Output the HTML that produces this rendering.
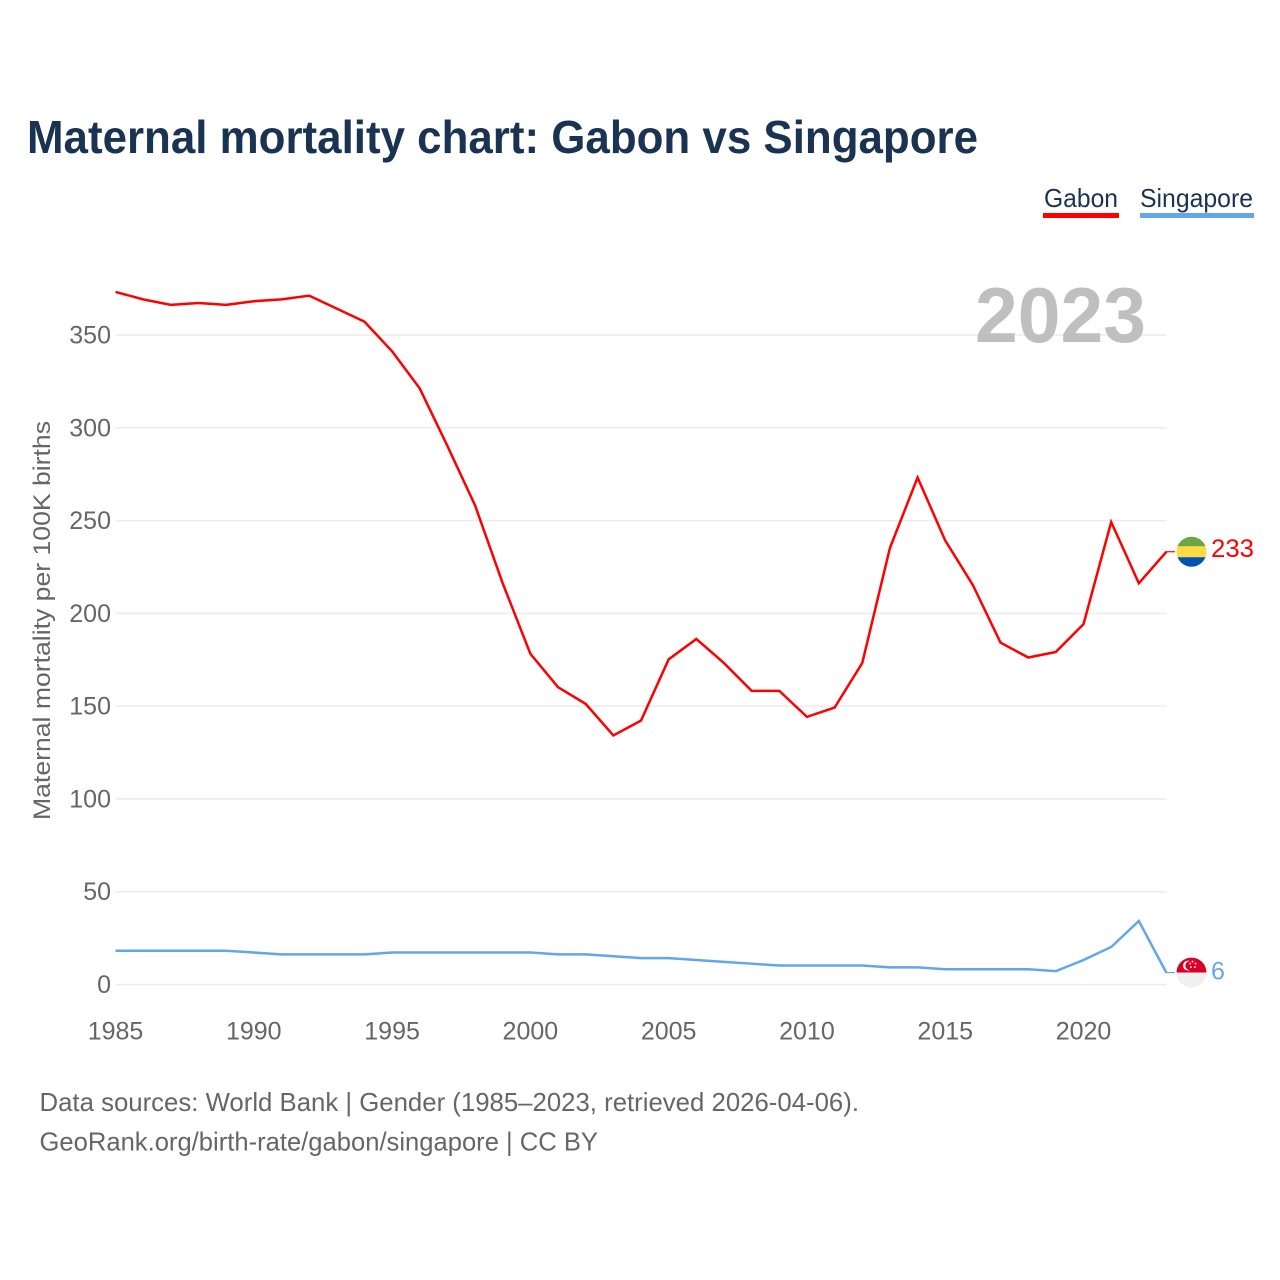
<!DOCTYPE html>
<html lang="en">
<head>
<meta charset="utf-8">
<title>Maternal mortality chart: Gabon vs Singapore</title>
<style>
html,body{margin:0;padding:0;background:#fff;width:1280px;height:1280px;overflow:hidden}
svg{display:block}
text{font-family:"Liberation Sans",sans-serif}
</style>
</head>
<body>
<svg id="chart" width="1280" height="1280" viewBox="0 0 1280 1280" xmlns="http://www.w3.org/2000/svg">
  <defs>
    <clipPath id="flag-clip-gabon"><circle cx="0" cy="0" r="15"></circle></clipPath>
    <clipPath id="flag-clip-singapore"><circle cx="0" cy="0" r="15"></circle></clipPath>
  </defs>
  <text x="27" y="153" font-size="46" font-weight="700" fill="#1a3353" textLength="951" lengthAdjust="spacingAndGlyphs">Maternal mortality chart: Gabon vs Singapore</text>

  <g>
    <g>
      <text x="1044" y="207" font-size="26" fill="#1a3353" textLength="74" lengthAdjust="spacingAndGlyphs">Gabon</text>
      <rect x="1043" y="213" width="76" height="5" fill="#ff0000"></rect>
    </g>
    <g>
      <text x="1140" y="207" font-size="26" fill="#1a3353" textLength="113" lengthAdjust="spacingAndGlyphs">Singapore</text>
      <rect x="1140" y="213" width="114" height="5" fill="#62a6ec"></rect>
    </g>
  </g>

  <g id="grid"></g>
  <g id="y-ticks"></g>
  <g id="x-ticks"></g>

  <text transform="translate(50,820) rotate(-90)" font-size="24" fill="#666666" textLength="399" lengthAdjust="spacingAndGlyphs">Maternal mortality per 100K births</text>

  <text x="975" y="342" font-size="78" font-weight="700" fill="#bfbfbf" textLength="171" lengthAdjust="spacingAndGlyphs">2023</text>

  <g id="series"></g>
  <g id="end-markers"></g>

  <text x="39.5" y="1111" font-size="26" fill="#666666" textLength="819.5" lengthAdjust="spacingAndGlyphs">Data sources: World Bank | Gender (1985–2023, retrieved 2026-04-06).</text>
  <text x="39.5" y="1150.5" font-size="26" fill="#666666" textLength="558.5" lengthAdjust="spacingAndGlyphs">GeoRank.org/birth-rate/gabon/singapore | CC BY</text>
</svg>
<script>
const years = [1985,1986,1987,1988,1989,1990,1991,1992,1993,1994,1995,1996,1997,1998,1999,2000,2001,2002,2003,2004,2005,2006,2007,2008,2009,2010,2011,2012,2013,2014,2015,2016,2017,2018,2019,2020,2021,2022,2023];
const gabonValues = [373,369,366,367,366,368,369,371,364,357,341,321,290,258,216,178,160,151,134,142,175,186,173,158,158,144,149,173,235,273,239,215,184,176,179,194,249,216,233];
const singaporeValues = [18,18,18,18,18,17,16,16,16,16,17,17,17,17,17,17,16,16,15,14,14,13,12,11,10,10,10,10,9,9,8,8,8,8,7,13,20,34,6];
const yTickValues = [0,50,100,150,200,250,300,350];
const xTickValues = [1985,1990,1995,2000,2005,2010,2015,2020];

const NS = 'http://www.w3.org/2000/svg';
const plotLeft = 115.5, plotRight = 1166.5, yZero = 984.5, yPerUnit = 1.8557, lineLift = 0.4;
const xMin = years[0], xMax = years[years.length - 1];
function xScale(v){ return plotLeft + (v - xMin) * (plotRight - plotLeft) / (xMax - xMin); }
function yScale(v){ return yZero - v * yPerUnit; }
function make(tag, attrs, parent){
  const el = document.createElementNS(NS, tag);
  for (const k in attrs) el.setAttribute(k, attrs[k]);
  parent.appendChild(el);
  return el;
}

const gridG = document.getElementById('grid');
const yTicksG = document.getElementById('y-ticks');
const xTicksG = document.getElementById('x-ticks');
const seriesG = document.getElementById('series');
const markersG = document.getElementById('end-markers');

yTickValues.forEach(function(v){
  const line = make('line', {x1: plotLeft, x2: plotRight, y1: yScale(v), y2: yScale(v), stroke: '#ececec', 'stroke-width': 1.5}, gridG);
  
  
  const label = make('text', {x: 111, y: yScale(v) + 8.5, 'text-anchor': 'end', 'font-size': 25, fill: '#666666'}, yTicksG);
  
  
  label.textContent = v;
});

xTickValues.forEach(function(v){
  const label = make('text', {x: xScale(v), y: 1039.5, 'text-anchor': 'middle', 'font-size': 25, fill: '#666666'}, xTicksG);
  
  
  label.textContent = v;
});

function pointsFor(values){
  return values.map(function(v, i){ return xScale(years[i]).toFixed(2) + ',' + (yScale(v) - lineLift).toFixed(2); }).join(' ');
}

const gabonLine = make('polyline', {points: pointsFor(gabonValues), fill: 'none', stroke: '#ff0000', 'stroke-width': 2.5, 'stroke-linejoin': 'miter'}, seriesG);



const singaporeLine = make('polyline', {points: pointsFor(singaporeValues), fill: 'none', stroke: '#62a6ec', 'stroke-width': 2.5, 'stroke-linejoin': 'miter'}, seriesG);



/* Gabon end marker */
const gabonLast = gabonValues[gabonValues.length - 1];
const gabonY = yScale(gabonLast) - lineLift;
const gabonTick = make('line', {x1: plotRight, x2: 1175, y1: gabonY, y2: gabonY, stroke: '#ff0000', 'stroke-width': 1.2}, markersG);


const gabonFlag = make('g', {transform: 'translate(1191.5,' + gabonY + ')', 'clip-path': 'url(#flag-clip-gabon)'}, markersG);


make('rect', {x: -15, y: -16, width: 30, height: 11, fill: '#6da544'}, gabonFlag);
make('rect', {x: -15, y: -5.5, width: 30, height: 11, fill: '#ffda44'}, gabonFlag);
make('rect', {x: -15, y: 5.5, width: 30, height: 11, fill: '#0052b4'}, gabonFlag);
const gabonLabel = make('text', {x: 1211, y: gabonY + 5.5, 'font-size': 25, fill: '#ff0000', textLength: 43, lengthAdjust: 'spacingAndGlyphs'}, markersG);


gabonLabel.textContent = gabonLast;

/* Singapore end marker */
const singaporeLast = singaporeValues[singaporeValues.length - 1];
const singaporeY = yScale(singaporeLast) - 0.8;
const singaporeTick = make('line', {x1: plotRight, x2: 1175, y1: singaporeY, y2: singaporeY, stroke: '#62a6ec', 'stroke-width': 1.2}, markersG);


const singaporeFlag = make('g', {transform: 'translate(1191.5,' + singaporeY + ')', 'clip-path': 'url(#flag-clip-singapore)'}, markersG);


make('rect', {x: -15, y: -16, width: 30, height: 16, fill: '#d80027'}, singaporeFlag);
make('rect', {x: -15, y: 0, width: 30, height: 16, fill: '#f0f0f0'}, singaporeFlag);
make('circle', {cx: -3.5, cy: -7, r: 5, fill: '#f0f0f0'}, singaporeFlag);
make('circle', {cx: -1.5, cy: -7, r: 4.6, fill: '#d80027'}, singaporeFlag);
[[1,-11],[4,-9],[3.4,-5.5],[-0.6,-5.5],[-1.4,-9]].forEach(function(p){
  make('circle', {cx: p[0], cy: p[1], r: 0.9, fill: '#f0f0f0'}, singaporeFlag);
});
const singaporeLabel = make('text', {x: 1211, y: singaporeY + 7, 'font-size': 25, fill: '#62a6ec'}, markersG);


singaporeLabel.textContent = singaporeLast;
</script>
</body>
</html>
